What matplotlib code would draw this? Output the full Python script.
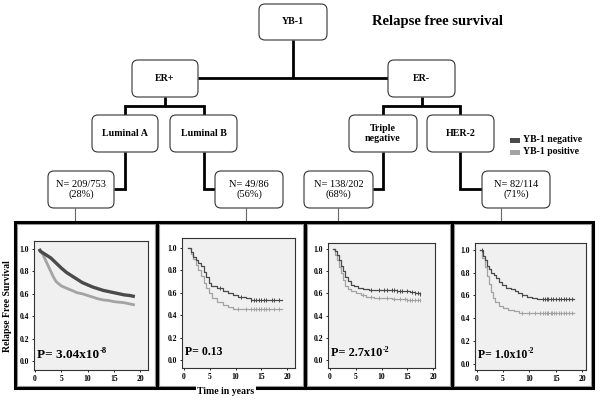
import numpy as np
import matplotlib
matplotlib.use("Agg")
import matplotlib.pyplot as plt
from matplotlib.patches import FancyBboxPatch, Rectangle

plt.rcParams['font.family'] = ['Liberation Serif', 'DejaVu Serif']

# ---------------- data ----------------
title = "Relapse free survival"
root_label = "YB-1"
er_labels = ["ER+", "ER-"]
subtype_labels = ["Luminal A", "Luminal B", "Triple\nnegative", "HER-2"]
n_labels = ["N= 209/753\n(28%)", "N= 49/86\n(56%)", "N= 138/202\n(68%)", "N= 82/114\n(71%)"]
legend_labels = ["YB-1 negative", "YB-1 positive"]
p_main = ["P= 3.04x10", "P= 0.13", "P= 2.7x10", "P= 1.0x10"]
p_exp = ["-8", "", "-2", "-2"]
y_ticks = [0.0, 0.2, 0.4, 0.6, 0.8, 1.0]
x_ticks = [0, 5, 10, 15, 20]
ylabel = "Relapse Free Survival"
xlabel = "Time in years"

# Kaplan-Meier curves (YB-1 negative / positive) per subtype
lumA_neg_t = [0.8, 1, 2, 3, 4, 5, 6, 7, 8, 9, 10, 11, 12, 13, 14, 15, 16, 17, 18, 19]
lumA_neg_s = [1.0, 0.98, 0.95, 0.92, 0.875, 0.83, 0.79, 0.76, 0.73, 0.70, 0.68, 0.66, 0.645, 0.63, 0.62, 0.61, 0.60, 0.59, 0.585, 0.575]
lumA_pos_t = [0.8, 1.5, 2, 2.5, 3, 3.5, 4, 5, 6, 7, 8, 9, 10, 11, 12, 13, 14, 15, 16, 17, 18, 19]
lumA_pos_s = [1.0, 0.95, 0.90, 0.85, 0.80, 0.75, 0.71, 0.67, 0.65, 0.63, 0.61, 0.60, 0.585, 0.57, 0.555, 0.545, 0.54, 0.53, 0.525, 0.52, 0.51, 0.50]
lumA_neg_c = []
lumA_pos_c = []

lumB_neg_t = [0.8, 1.3, 1.8, 2.3, 2.8, 3.3, 3.8, 4.3, 4.8, 5.3, 6.5, 7.5, 8.5, 9.5, 10.5, 12.0, 13.0, 19.0]
lumB_neg_s = [1.0, 0.96, 0.92, 0.89, 0.87, 0.84, 0.79, 0.74, 0.69, 0.66, 0.64, 0.62, 0.60, 0.58, 0.565, 0.55, 0.54, 0.54]
lumB_pos_t = [0.8, 1.3, 1.8, 2.3, 2.8, 3.3, 3.8, 4.3, 4.8, 5.5, 6.5, 7.5, 8.5, 9.5, 19.0]
lumB_pos_s = [1.0, 0.95, 0.90, 0.85, 0.80, 0.75, 0.69, 0.64, 0.60, 0.55, 0.52, 0.49, 0.47, 0.455, 0.455]
lumB_neg_c = [7.0, 11.0, 13.0, 13.5, 14.0, 14.5, 15.0, 15.5, 16.0, 17.0, 17.5, 18.5]
lumB_pos_c = [10.5, 12.0, 13.0, 13.5, 14.0, 14.5, 15.0, 15.5, 16.0, 16.5, 17.5, 18.5]

tn_neg_t = [0.5, 1.0, 1.4, 1.8, 2.2, 2.6, 3.0, 3.4, 4.0, 4.6, 5.5, 6.5, 7.5, 9.0, 13.0, 14.5, 15.5, 16.5, 17.5]
tn_neg_s = [1.0, 0.98, 0.95, 0.90, 0.85, 0.80, 0.75, 0.71, 0.68, 0.665, 0.65, 0.64, 0.63, 0.63, 0.625, 0.62, 0.61, 0.60, 0.595]
tn_pos_t = [0.5, 0.9, 1.3, 1.7, 2.1, 2.5, 3.0, 3.5, 4.0, 5.0, 6.0, 7.0, 8.5, 10.0, 12.0, 15.0, 17.5]
tn_pos_s = [1.0, 0.95, 0.90, 0.84, 0.78, 0.72, 0.67, 0.64, 0.625, 0.60, 0.585, 0.57, 0.56, 0.555, 0.55, 0.545, 0.54]
tn_neg_c = [8.0, 9.5, 10.5, 11.0, 12.0, 12.5, 13.0, 13.5, 14.0, 15.0, 16.0, 16.5, 17.0, 17.5]
tn_pos_c = [6.5, 8.0, 9.5, 11.0, 12.5, 13.5, 14.5, 15.0, 15.5, 16.0, 16.5, 17.0, 17.5]

her2_neg_t = [0.7, 1.2, 1.6, 2.0, 2.4, 2.8, 3.2, 3.6, 4.2, 4.8, 5.5, 6.5, 7.2, 7.8, 8.5, 9.5, 10.5, 11.5, 18.5]
her2_neg_s = [1.0, 0.95, 0.91, 0.86, 0.83, 0.80, 0.78, 0.75, 0.72, 0.69, 0.67, 0.66, 0.64, 0.62, 0.60, 0.59, 0.58, 0.57, 0.57]
her2_pos_t = [0.7, 1.1, 1.5, 1.9, 2.3, 2.7, 3.1, 3.5, 4.2, 5.0, 6.0, 7.0, 8.0, 9.0, 18.5]
her2_pos_s = [1.0, 0.93, 0.85, 0.77, 0.70, 0.63, 0.58, 0.54, 0.51, 0.49, 0.47, 0.46, 0.45, 0.445, 0.445]
her2_neg_c = [1.0, 8.5, 12.5, 13.0, 13.3, 13.6, 14.0, 14.5, 15.0, 15.5, 16.0, 16.5, 17.0, 17.5, 18.0]
her2_pos_c = [8.5, 10.0, 11.0, 12.0, 12.5, 13.0, 13.3, 13.6, 14.0, 14.3, 14.6, 15.0, 15.5, 16.0, 16.5, 17.0, 17.5, 18.0]

# ---------------- figure ----------------
W, H = 600, 401
fig = plt.figure(figsize=(W / 100, H / 100), dpi=100)
fig.patch.set_facecolor('white')
bg = fig.add_axes([0, 0, 1, 1])
bg.set_xlim(0, W)
bg.set_ylim(H, 0)
bg.axis('off')

DARK = '#4a4a4a'
LIGHT = '#a3a3a3'
LINE = 'black'


def rbox(x0, x1, y0, y1):
    bg.add_patch(FancyBboxPatch((x0, y0), x1 - x0, y1 - y0,
                                boxstyle="round,pad=0,rounding_size=6",
                                fc='white', ec='#333333', lw=0.8, zorder=3))


def seg(pts, lw=2.0, color=LINE):
    xs, ys = zip(*pts)
    bg.plot(xs, ys, color=color, lw=lw, solid_capstyle='butt',
            solid_joinstyle='miter', zorder=2)


# title
bg.text(437, 22, title, ha='center', va='center', fontsize=10.5, fontweight='bold')

# root
rbox(259, 327, 4, 40)
bg.text(293, 22, root_label, ha='center', va='center', fontsize=7.2, fontweight='bold')
seg([(293, 40), (293, 78)])
seg([(198, 78), (388, 78)])

# ER boxes
er_x = [(132, 198), (388, 455)]
for (x0, x1), lab in zip(er_x, er_labels):
    rbox(x0, x1, 60, 97)
    bg.text((x0 + x1) / 2, 78.5, lab, ha='center', va='center', fontsize=7.2, fontweight='bold')

# ER -> subtype connectors
seg([(165, 97), (165, 106)])
seg([(125, 115), (125, 106), (204, 106), (204, 115)])
seg([(422, 97), (422, 106)])
seg([(383, 115), (383, 106), (460, 106), (460, 115)])

# subtype boxes
sub_x = [(92, 158), (170, 237), (349, 417), (427, 494)]
for (x0, x1), lab in zip(sub_x, subtype_labels):
    rbox(x0, x1, 115, 152)
    bg.text((x0 + x1) / 2, 133.5, lab, ha='center', va='center', fontsize=7.2,
            fontweight='bold', linespacing=1.2)

# N boxes
n_x = [(48, 114), (215, 283), (304, 373), (482, 550)]
for (x0, x1), lab in zip(n_x, n_labels):
    rbox(x0, x1, 171, 208)
    bg.text((x0 + x1) / 2, 189.5, lab, ha='center', va='center', fontsize=7.5,
            linespacing=1.15)

# subtype -> N connectors
seg([(125, 152), (125, 189), (114, 189)])
seg([(204, 152), (204, 189), (215, 189)])
seg([(383, 152), (383, 189), (373, 189)])
seg([(460, 152), (460, 189), (482, 189)])

# thin connectors to panels
for xx in [75, 246, 338, 501]:
    seg([(xx, 208), (xx, 222)], lw=0.8, color='#666666')

# legend
for yy, col, lab in zip([140, 152], [DARK, LIGHT], legend_labels):
    bg.add_patch(Rectangle((510, yy - 2.5), 10, 5, fc=col, ec='none', zorder=3))
    bg.text(523, yy, lab, ha='left', va='center', fontsize=7, fontweight='bold')

# panel frames
panel_x = [(15, 157), (157, 305), (305, 452), (452, 593)]
for x0, x1 in panel_x:
    bg.add_patch(Rectangle((x0 + 2, 224), x1 - x0 - 4, 162, fc='none', ec='#9a9a9a', lw=0.8, zorder=4))
    bg.add_patch(Rectangle((x0, 222), x1 - x0, 166, fc='none', ec='black', lw=2.2, zorder=4))

bg.text(8, 306, ylabel, rotation=90, ha='center', va='center', fontsize=7, fontweight='bold')
bg.text(226, 391, xlabel, ha='center', va='center', fontsize=7, fontweight='bold', zorder=6,
        bbox=dict(fc='white', ec='none', pad=1.0))

# KM panels
axes_px = [(34, 148, 241, 370), (182, 295, 238, 368), (328, 435, 243, 368), (475, 586, 243, 370)]
xlims = [(-0.19, 21.5), (-0.39, 21.55), (-0.39, 20.39), (-0.3, 20.7)]
ylims = [(-0.08, 1.071), (-0.071, 1.089), (-0.072, 1.054), (-0.053, 1.06)]
p_sizes = [9.5, 8.5, 8.8, 8.5]

curves = [
    (lumA_neg_t, lumA_neg_s, lumA_pos_t, lumA_pos_s, lumA_neg_c, lumA_pos_c),
    (lumB_neg_t, lumB_neg_s, lumB_pos_t, lumB_pos_s, lumB_neg_c, lumB_pos_c),
    (tn_neg_t, tn_neg_s, tn_pos_t, tn_pos_s, tn_neg_c, tn_pos_c),
    (her2_neg_t, her2_neg_s, her2_pos_t, her2_pos_s, her2_neg_c, her2_pos_c),
]


def step_val(t, s, tc):
    t = np.asarray(t)
    s = np.asarray(s)
    idx = np.searchsorted(t, tc, side='right') - 1
    idx = np.clip(idx, 0, len(s) - 1)
    return s[idx]


for i, ((x0, x1, y0, y1), xl, yl, cv, pm, pe, psz) in enumerate(
        zip(axes_px, xlims, ylims, curves, p_main, p_exp, p_sizes)):
    ax = fig.add_axes([x0 / W, (H - y1) / H, (x1 - x0) / W, (y1 - y0) / H])
    ax.set_facecolor('#f0f0f0')
    ax.set_xlim(*xl)
    ax.set_ylim(*yl)
    nt, ns, pt, ps, nc, pc = cv
    if i == 0:
        # large cohort: dense events, curves look continuous
        ax.plot(pt, ps, color=LIGHT, lw=2.0, zorder=2, solid_capstyle='butt')
        ax.plot(nt, ns, color=DARK, lw=2.4, zorder=3, solid_capstyle='butt')
    else:
        ax.step(pt, ps, where='post', color=LIGHT, lw=0.9, zorder=2)
        ax.step(nt, ns, where='post', color=DARK, lw=0.9, zorder=3)
    if pc:
        ax.plot(pc, step_val(pt, ps, pc), ls='none', marker='|', ms=3, mew=0.7, color=LIGHT, zorder=2)
    if nc:
        ax.plot(nc, step_val(nt, ns, nc), ls='none', marker='|', ms=3, mew=0.7, color=DARK, zorder=3)
    ax.set_xticks(x_ticks)
    ax.set_yticks(y_ticks)
    ax.set_xticklabels([str(v) for v in x_ticks])
    ax.set_yticklabels([f"{v:.1f}" for v in y_ticks])
    ax.tick_params(labelsize=5.5, length=1.5, width=0.6, pad=2, colors='black')
    for lab in ax.get_xticklabels() + ax.get_yticklabels():
        lab.set_fontweight('bold')
    for sp in ax.spines.values():
        sp.set_color('#333333')
        sp.set_linewidth(0.8)
    t = ax.text(0.03, 0.12, pm, transform=ax.transAxes, ha='left', va='center',
                fontsize=psz, fontweight='bold')
    if pe:
        fig.canvas.draw()
        bb = t.get_window_extent()
        ax.annotate(pe, xy=(bb.x1, bb.y1), xycoords='figure pixels',
                    xytext=(0.3, -1.8), textcoords='offset points',
                    ha='left', va='center', fontsize=psz * 0.65, fontweight='bold')

fig.savefig("out.png", dpi=100)
